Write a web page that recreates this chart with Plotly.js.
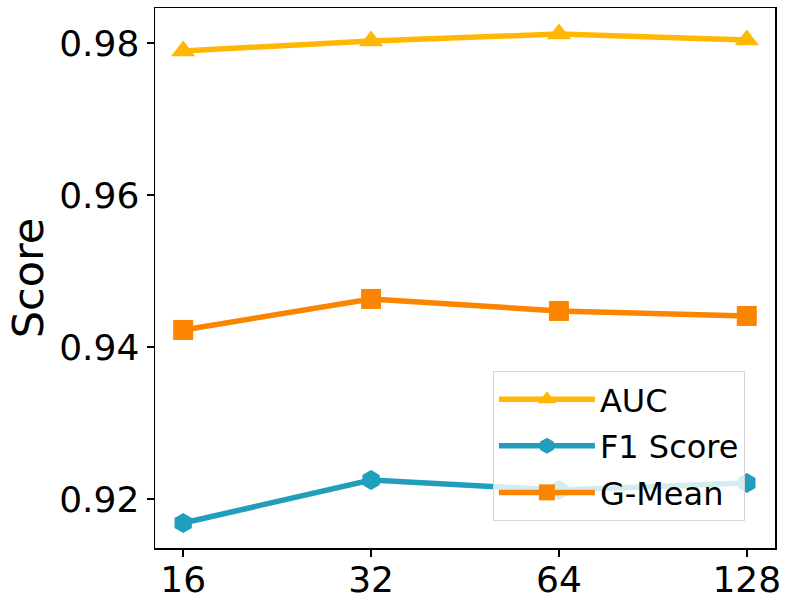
<!DOCTYPE html>
<html>
<head>
<meta charset="utf-8">
<script src="https://cdn.plot.ly/plotly-3.0.1.min.js"></script>
<style>
    html, body { margin: 0; padding: 0; background: #fff; }
    #chart { width: 793px; height: 606px; }
</style>
</head>
<body>
<div id="chart"></div>
<script>
// hidden size values
var hiddenSizes = ["16", "32", "64", "128"];
var aucScores = [0.97895, 0.98026, 0.98118, 0.98039];
var f1Scores = [0.91684, 0.92250, 0.92118, 0.92211];
var gMeanScores = [0.94224, 0.94632, 0.94474, 0.94408];

var yTickValues = [0.92, 0.94, 0.96, 0.98];
var yTickLabels = ["0.92", "0.94", "0.96", "0.98"];

var fontFamily = "DejaVu Sans, sans-serif";

var aucTrace =
{
    x: hiddenSizes,
    y: aucScores,
    mode: "lines+markers",
    name: "AUC",
    type: "scatter",
    legendgroup: "auc",
    line: { color: "#ffb703", width: 5.5 },
    marker: { symbol: "triangle-up", size: 21, color: "#ffb703" }
};

var f1Trace =
{
    x: hiddenSizes,
    y: f1Scores,
    mode: "lines+markers",
    name: "F1 Score",
    type: "scatter",
    legendgroup: "f1",
    line: { color: "#219ebc", width: 5.5 },
    marker: { symbol: "hexagon", size: 20, color: "#219ebc" }
};

var gMeanTrace =
{
    x: hiddenSizes,
    y: gMeanScores,
    mode: "lines+markers",
    name: "G-Mean",
    type: "scatter",
    legendgroup: "gmean",
    line: { color: "#fb8500", width: 5.5 },
    marker: { symbol: "square", size: 20, color: "#fb8500" }
};

var data = [aucTrace, f1Trace, gMeanTrace];

var layout =
{
    width: 793,
    height: 606,
    margin: { l: 155, r: 18, t: 8, b: 58 },
    paper_bgcolor: "#fff",
    plot_bgcolor: "#fff",
    font: { family: fontFamily, color: "#000", size: 32 },
    showlegend: true,
    legend:
    {
        x: 0.545,
        y: 0.328,
        xanchor: "left",
        yanchor: "top",
        bgcolor: "rgba(255,255,255,0.8)",
        bordercolor: "#d6d6d6",
        borderwidth: 1,
        font: { family: fontFamily, size: 32, color: "#000" },
        itemwidth: 96,
        tracegroupgap: 2
    },
    xaxis:
    {
        type: "category",
        range: [-0.15, 3.15],
        showline: true,
        mirror: true,
        linecolor: "#000",
        linewidth: 1.5,
        ticks: "outside",
        ticklen: 7,
        tickwidth: 1.5,
        tickcolor: "#000",
        ticklabelstandoff: -8,
        showgrid: false,
        zeroline: false,
        tickfont: { family: fontFamily, size: 36, color: "#000" }
    },
    yaxis:
    {
        range: [0.91355, 0.9846],
        tickvals: yTickValues,
        ticktext: yTickLabels,
        showline: true,
        mirror: true,
        linecolor: "#000",
        linewidth: 1.5,
        ticks: "outside",
        ticklen: 7,
        tickwidth: 1.5,
        tickcolor: "#000",
        showgrid: false,
        zeroline: false,
        tickfont: { family: fontFamily, size: 36, color: "#000" },
        title: { text: "Score", font: { family: fontFamily, size: 43, color: "#000" }, standoff: 2 }
    }
};

var config = { staticPlot: true, displayModeBar: false };

Plotly.newPlot("chart", data, layout, config);
</script>
</body>
</html>
